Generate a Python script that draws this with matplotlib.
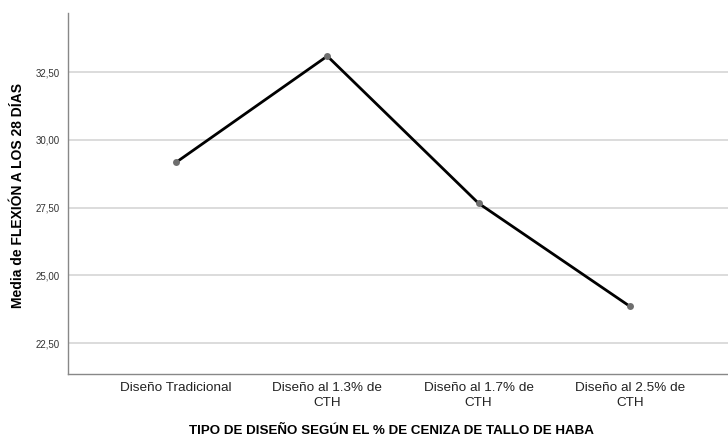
import matplotlib
matplotlib.use("Agg")
import matplotlib.pyplot as plt

categories = ["Diseño Tradicional", "Diseño al 1.3% de\nCTH", "Diseño al 1.7% de\nCTH", "Diseño al 2.5% de\nCTH"]
means = [29.17, 33.09, 27.66, 23.86]
yticks = [22.5, 25.0, 27.5, 30.0, 32.5]
ytick_labels = ["22,50", "25,00", "27,50", "30,00", "32,50"]

plt.rcParams['font.family'] = ['Liberation Sans', 'DejaVu Sans']

fig = plt.figure(figsize=(7.28, 4.36), dpi=100)
ax = fig.add_axes([68/728, 1-374/436, (728-68)/728, (374-13)/436])

x = list(range(len(categories)))
ax.plot(x, means, color='black', lw=2.0, zorder=3, solid_capstyle='round')
ax.plot(x, means, 'o', color='#6e6e6e', ms=5, zorder=4, mec='none')

ax.set_xlim(-0.715, 3.65)
ax.set_ylim(21.36, 34.68)
ax.set_yticks(yticks)
ax.set_yticklabels(ytick_labels, fontsize=7, color='#333333')
ax.set_xticks(x)
ax.set_xticklabels(categories, fontsize=9.7, color='#222222', linespacing=1.25)
ax.tick_params(axis='both', length=0)
ax.tick_params(axis='y', pad=6)
ax.tick_params(axis='x', pad=6)
ax.yaxis.grid(True, color='#d6d6d6', lw=1.2)
ax.set_axisbelow(True)

for s in ['top', 'right']:
    ax.spines[s].set_visible(False)
for s in ['left', 'bottom']:
    ax.spines[s].set_color('#888888')
    ax.spines[s].set_linewidth(1.0)

fig.text(18/728, 1-195/436, "Media de FLEXIÓN A LOS 28 DÍAS", rotation=90,
         ha='center', va='center', fontsize=10, fontweight='bold', color='black')
fig.text(391/728, 1-431/436, "TIPO DE DISEÑO SEGÚN EL % DE CENIZA DE TALLO DE HABA",
         ha='center', va='center', fontsize=9.6, fontweight='bold', color='black')

fig.savefig("out.png", dpi=100)
